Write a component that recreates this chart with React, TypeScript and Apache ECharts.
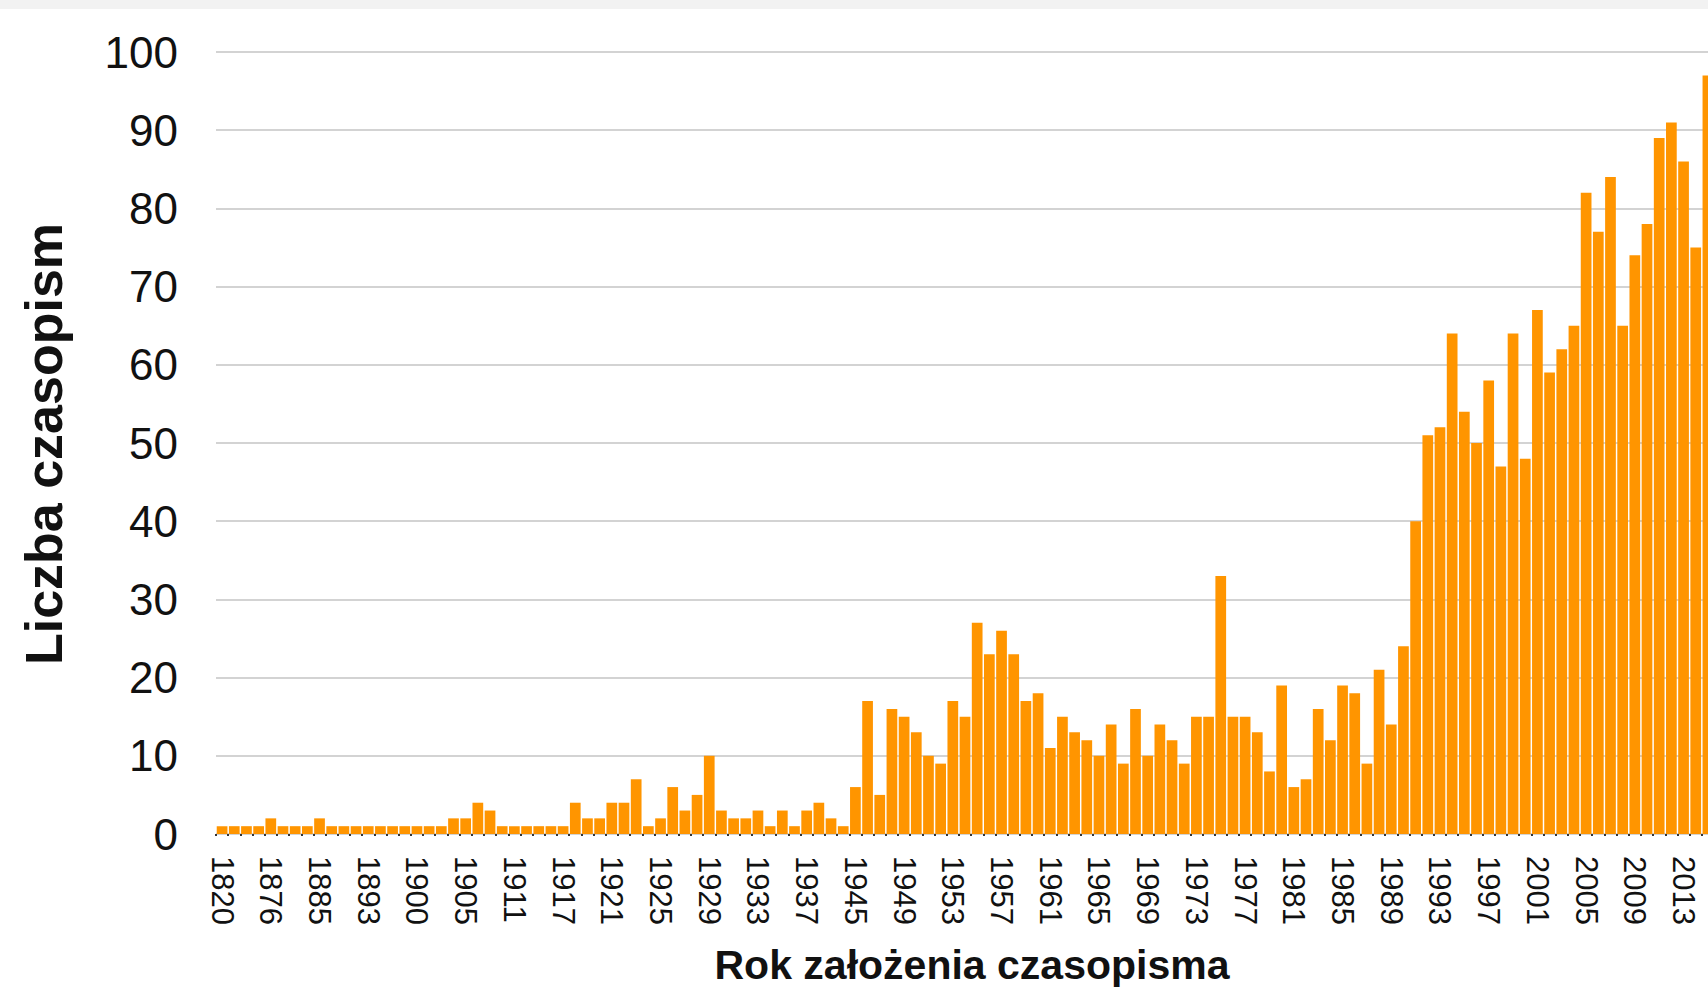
import React, { useEffect, useRef } from "react";
import * as echarts from "echarts";

// Category labels (years of founding); every 4th one is shown on the axis
const years: string[] = [
  "1820", "1848", "1861", "1870", "1876", "1878", "1880", "1882",
  "1885", "1887", "1889", "1891", "1893", "1895", "1897", "1898",
  "1900", "1901", "1902", "1904", "1905", "1906", "1908", "1909",
  "1911", "1912", "1913", "1914", "1917", "1918", "1919", "1920",
  "1921", "1922", "1923", "1924", "1925", "1926", "1927", "1928",
  "1929", "1930", "1931", "1932", "1933", "1934", "1935", "1936",
  "1937", "1938", "1939", "1944", "1945", "1946", "1947", "1948",
  "1949", "1950", "1951", "1952", "1953", "1954", "1955", "1956",
  "1957", "1958", "1959", "1960", "1961", "1962", "1963", "1964",
  "1965", "1966", "1967", "1968", "1969", "1970", "1971", "1972",
  "1973", "1974", "1975", "1976", "1977", "1978", "1979", "1980",
  "1981", "1982", "1983", "1984", "1985", "1986", "1987", "1988",
  "1989", "1990", "1991", "1992", "1993", "1994", "1995", "1996",
  "1997", "1998", "1999", "2000", "2001", "2002", "2003", "2004",
  "2005", "2006", "2007", "2008", "2009", "2010", "2011", "2012",
  "2013", "2014", "2015",
];

// Number of journals founded in each year
const counts: number[] = [
  1, 1, 1, 1, 2, 1, 1, 1,
  2, 1, 1, 1, 1, 1, 1, 1,
  1, 1, 1, 2, 2, 4, 3, 1,
  1, 1, 1, 1, 1, 4, 2, 2,
  4, 4, 7, 1, 2, 6, 3, 5,
  10, 3, 2, 2, 3, 1, 3, 1,
  3, 4, 2, 1, 6, 17, 5, 16,
  15, 13, 10, 9, 17, 15, 27, 23,
  26, 23, 17, 18, 11, 15, 13, 12,
  10, 14, 9, 16, 10, 14, 12, 9,
  15, 15, 33, 15, 15, 13, 8, 19,
  6, 7, 16, 12, 19, 18, 9, 21,
  14, 24, 40, 51, 52, 64, 54, 50,
  58, 47, 64, 48, 67, 59, 62, 65,
  82, 77, 84, 65, 74, 78, 89, 91,
  86, 75, 97,
];

const yTitle = "Liczba czasopism";
const xTitle = "Rok założenia czasopisma";

const FONT = "'Liberation Sans', Arial, Helvetica, sans-serif";

export default function App() {
  const ref = useRef<HTMLDivElement>(null);

  useEffect(() => {
    document.body.style.margin = "0";
    if (!ref.current) return;
    const chart = echarts.init(ref.current, undefined, { renderer: "svg" });
    chart.setOption({
      animation: false,
      backgroundColor: "#ffffff",
      grid: { left: 216, top: 52, height: 782, width: 1498 },
      xAxis: {
        type: "category",
        data: years,
        axisLine: { show: false },
        axisTick: {
          show: true,
          interval: 0,
          length: 2,
          lineStyle: { color: "#333", width: 2 },
        },
        axisLabel: {
          interval: 3,
          rotate: -90,
          margin: 22,
          fontSize: 31,
          color: "#111",
          fontFamily: FONT,
        },
        splitLine: { show: false },
      },
      yAxis: {
        type: "value",
        min: 0,
        max: 100,
        interval: 10,
        axisLine: { show: false },
        axisTick: { show: false },
        axisLabel: {
          margin: 38,
          fontSize: 44,
          color: "#111",
          fontFamily: FONT,
        },
        splitLine: { show: true, lineStyle: { color: "#c4c4c4", width: 1.5 } },
      },
      series: [
        {
          type: "bar",
          data: counts,
          barCategoryGap: "12%",
          itemStyle: { color: "#ff9500" },
        },
      ],
      graphic: [
        {
          type: "rect",
          left: 0,
          top: 0,
          shape: { x: 0, y: 0, width: 1720, height: 9 },
          style: { fill: "#f2f2f2" },
          silent: true,
        },
        {
          type: "text",
          x: 44,
          y: 444,
          rotation: Math.PI / 2,
          style: {
            text: yTitle,
            font: `bold 52px ${FONT}`,
            fill: "#111",
            textAlign: "center",
            textVerticalAlign: "middle",
          },
        },
        {
          type: "text",
          x: 972,
          y: 965,
          style: {
            text: xTitle,
            font: `bold 41px ${FONT}`,
            fill: "#111",
            textAlign: "center",
            textVerticalAlign: "middle",
          },
        },
      ],
    });
    return () => chart.dispose();
  }, []);

  return (
    <div style={{ position: "relative", width: 1708, height: 990, overflow: "hidden" }}>
      <div ref={ref} style={{ width: 1720, height: 990 }} />
    </div>
  );
}
